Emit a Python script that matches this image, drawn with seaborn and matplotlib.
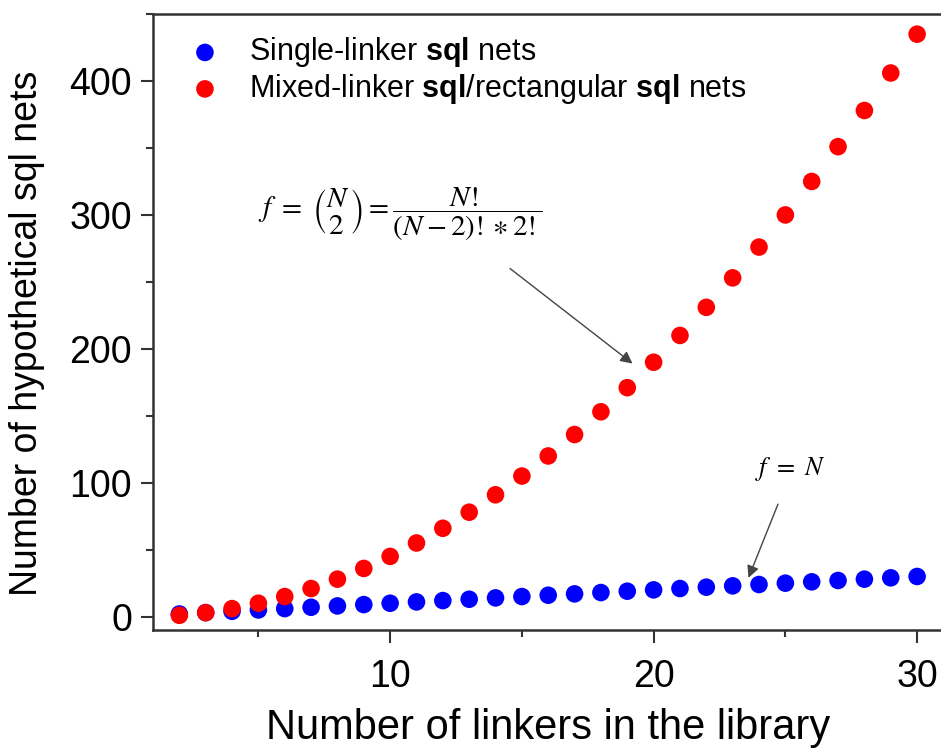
import matplotlib
matplotlib.use("Agg")
import matplotlib.pyplot as plt
from matplotlib.ticker import MultipleLocator
import pandas as pd
import seaborn as sns

sns.set_style('ticks')
plt.rcParams['font.family'] = ['Liberation Sans', 'DejaVu Sans']
plt.rcParams['mathtext.fontset'] = 'custom'
plt.rcParams['mathtext.rm'] = 'Liberation Sans'
plt.rcParams['mathtext.bf'] = 'Liberation Sans:bold'
plt.rcParams['text.color'] = 'black'
plt.rcParams['axes.labelcolor'] = 'black'

# number of linkers N
linkers = [2, 3, 4, 5, 6, 7, 8, 9, 10, 11, 12, 13, 14, 15, 16, 17, 18, 19, 20,
           21, 22, 23, 24, 25, 26, 27, 28, 29, 30]
# single-linker sql nets
single_nets = [2, 3, 4, 5, 6, 7, 8, 9, 10, 11, 12, 13, 14, 15, 16, 17, 18, 19, 20,
               21, 22, 23, 24, 25, 26, 27, 28, 29, 30]
# mixed-linker sql / rectangular sql nets
mixed_nets = [1, 3, 6, 10, 15, 21, 28, 36, 45, 55, 66, 78, 91, 105, 120, 136, 153,
              171, 190, 210, 231, 253, 276, 300, 325, 351, 378, 406, 435]

single_label = r'Single-linker $\mathbf{sql}$ nets'
mixed_label = r'Mixed-linker $\mathbf{sql}$/rectangular $\mathbf{sql}$ nets'

df = pd.DataFrame({'N': linkers, 'single': single_nets, 'mixed': mixed_nets})

fig = plt.figure(figsize=(9.41, 7.53), dpi=100)
ax = fig.add_axes([0.1626, 0.1633, 0.854, 0.818])

sns.scatterplot(data=df, x='N', y='single', color='#0000ff', s=160,
                edgecolor='none', label=single_label, ax=ax, zorder=3)
sns.scatterplot(data=df, x='N', y='mixed', color='#ff0000', s=160,
                edgecolor='none', label=mixed_label, ax=ax, zorder=4)

ax.set_xlim(1, 31.5)
ax.set_ylim(-10, 450)
ax.xaxis.set_major_locator(MultipleLocator(10))
ax.xaxis.set_minor_locator(MultipleLocator(5))
ax.yaxis.set_major_locator(MultipleLocator(100))
ax.yaxis.set_minor_locator(MultipleLocator(50))
ax.tick_params(which='major', direction='out', length=9, width=1.5,
               labelsize=27, color='#333333', labelcolor='black', pad=6)
ax.tick_params(axis='x', which='major', pad=12)
ax.tick_params(which='minor', direction='out', length=5, width=1.5,
               color='#333333')
for side in ['left', 'bottom', 'top', 'right']:
    ax.spines[side].set_linewidth(1.8)
    ax.spines[side].set_color('#333333')

ax.set_xlabel('Number of linkers in the library', fontsize=30)
ax.set_ylabel('Number of hypothetical sql nets', fontsize=27)
ax.xaxis.set_label_coords(0.4915, -0.127)
ax.yaxis.set_label_coords(-0.135, 0.482)

ax.legend(loc='upper left', frameon=False, fontsize=22, markerscale=1.0,
          handletextpad=0.45, borderaxespad=0.3, labelspacing=0.08,
          bbox_to_anchor=(0.0, 1.0))

ax.text(5.0, 300, r'$f\ =\ \genfrac{(}{)}{0}{0}{N}{2} = \dfrac{N!}{(N-2)!\ast 2!}$',
        fontsize=21, math_fontfamily='stix', ha='left', va='center')
ax.annotate('', xy=(19.2, 189), xytext=(14.55, 260),
            arrowprops=dict(arrowstyle='-|>', color='#444444', lw=1,
                            mutation_scale=18, shrinkA=0, shrinkB=0))
ax.text(25.2, 110, r'$f\ =\ N$', fontsize=19, math_fontfamily='stix',
        ha='center', va='center')
ax.annotate('', xy=(23.6, 29), xytext=(24.72, 84),
            arrowprops=dict(arrowstyle='-|>', color='#444444', lw=1,
                            mutation_scale=18, shrinkA=0, shrinkB=0))

fig.savefig('out.png', dpi=100)
